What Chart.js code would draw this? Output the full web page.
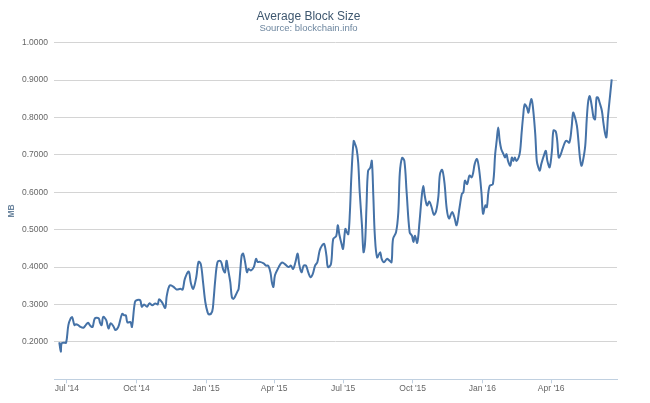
<!DOCTYPE html>
<html>
<head>
<meta charset="utf-8">
<title>Average Block Size</title>
<script src="https://cdn.jsdelivr.net/npm/chart.js@4.4.1/dist/chart.umd.min.js"></script>
<style>
    html, body { margin: 0; padding: 0; background: #fff; }
    #wrap { width: 650px; height: 403px; position: relative; }
</style>
</head>
<body>
<div id="wrap"><canvas id="blockChart"></canvas></div>
<script>
// x values are days counted from 1 Jul 2014
const days = [
    -10, -8, -7, -4, -1, 2, 5, 7, 10, 12, 15, 18, 22, 25, 28, 31, 34, 37, 42, 44,
    46, 48, 52, 55, 58, 62, 64, 68, 73, 76, 78, 80, 84, 86, 90, 93, 97, 99, 102, 106,
    109, 113, 117, 120, 122, 126, 130, 132, 136, 141, 145, 150, 153, 156, 161, 164, 167, 171, 174, 177,
    180, 183, 186, 188, 192, 194, 196, 199, 202, 204, 207, 209, 211, 213, 216, 218, 220, 222, 225, 227,
    229, 231, 233, 236, 238, 240, 243, 247, 250, 252, 255, 260, 263, 266, 269, 271, 273, 275, 280, 284,
    288, 293, 296, 299, 302, 305, 307, 310, 313, 316, 319, 322, 325, 328, 331, 334, 337, 340, 343, 345,
    349, 352, 356, 358, 360, 363, 365, 368, 370, 372, 374, 376, 379, 381, 383, 385, 387, 390, 392, 394,
    396, 398, 401, 403, 405, 407, 410, 414, 416, 419, 423, 426, 429, 431, 435, 438, 440, 443, 446, 449,
    453, 456, 458, 460, 463, 466, 469, 471, 473, 476, 479, 482, 485, 488, 491, 493, 496, 499, 502, 505,
    509, 512, 515, 519, 522, 524, 526, 529, 532, 535, 537, 539, 542, 545, 548, 550, 553, 555, 557, 559,
    563, 566, 568, 570, 572, 574, 577, 579, 581, 583, 586, 588, 590, 592, 594, 597, 599, 601, 603, 605,
    608, 610, 612, 614, 616, 619, 621, 623, 625, 627, 631, 633, 635, 638, 641, 643, 646, 648, 650, 652,
    655, 658, 660, 664, 667, 669, 671, 674, 676, 678, 680, 682, 685, 687, 689, 691, 694, 696, 698, 700,
    702, 704, 707, 709, 711, 713, 715, 718, 720
];

const blockSize = [
    0.199, 0.174, 0.196, 0.198, 0.198, 0.245, 0.263, 0.266, 0.245, 0.247, 0.245, 0.240, 0.238, 0.245, 0.251, 0.243, 0.240, 0.263, 0.263, 0.250,
    0.245, 0.267, 0.258, 0.236, 0.250, 0.240, 0.232, 0.240, 0.275, 0.271, 0.271, 0.252, 0.253, 0.240, 0.307, 0.312, 0.311, 0.294, 0.300, 0.294,
    0.303, 0.298, 0.303, 0.300, 0.314, 0.305, 0.291, 0.323, 0.351, 0.347, 0.340, 0.342, 0.340, 0.369, 0.388, 0.356, 0.342, 0.373, 0.414, 0.408,
    0.359, 0.306, 0.279, 0.273, 0.281, 0.315, 0.364, 0.413, 0.417, 0.413, 0.391, 0.386, 0.417, 0.395, 0.359, 0.320, 0.315, 0.320, 0.333, 0.342,
    0.386, 0.431, 0.436, 0.408, 0.386, 0.395, 0.391, 0.400, 0.422, 0.414, 0.414, 0.410, 0.404, 0.404, 0.386, 0.359, 0.347, 0.378, 0.400, 0.412,
    0.408, 0.400, 0.404, 0.395, 0.413, 0.436, 0.408, 0.386, 0.404, 0.404, 0.386, 0.373, 0.382, 0.404, 0.413, 0.444, 0.457, 0.462, 0.431, 0.400,
    0.408, 0.475, 0.483, 0.512, 0.488, 0.462, 0.449, 0.502, 0.493, 0.488, 0.546, 0.644, 0.737, 0.728, 0.715, 0.679, 0.600, 0.511, 0.440, 0.462,
    0.564, 0.657, 0.666, 0.684, 0.590, 0.484, 0.426, 0.440, 0.422, 0.413, 0.422, 0.418, 0.413, 0.475, 0.493, 0.546, 0.652, 0.692, 0.684, 0.600,
    0.493, 0.484, 0.467, 0.484, 0.465, 0.520, 0.590, 0.617, 0.590, 0.565, 0.575, 0.560, 0.540, 0.550, 0.590, 0.648, 0.660, 0.625, 0.556, 0.530,
    0.547, 0.534, 0.512, 0.560, 0.596, 0.600, 0.631, 0.622, 0.645, 0.640, 0.653, 0.676, 0.689, 0.658, 0.596, 0.543, 0.565, 0.560, 0.600, 0.618,
    0.622, 0.702, 0.738, 0.773, 0.738, 0.716, 0.702, 0.693, 0.702, 0.684, 0.671, 0.693, 0.684, 0.693, 0.684, 0.693, 0.711, 0.760, 0.804, 0.835,
    0.826, 0.813, 0.835, 0.849, 0.826, 0.755, 0.684, 0.667, 0.658, 0.676, 0.702, 0.711, 0.684, 0.667, 0.711, 0.765, 0.763, 0.738, 0.693, 0.698,
    0.716, 0.733, 0.738, 0.733, 0.773, 0.813, 0.804, 0.778, 0.738, 0.693, 0.671, 0.684, 0.724, 0.795, 0.844, 0.857, 0.826, 0.800, 0.795, 0.853,
    0.853, 0.840, 0.818, 0.786, 0.760, 0.747, 0.800, 0.862, 0.902
];

// quarter ticks on the x axis
const tickDays = [0, 92, 184, 274, 365, 457, 549, 640];
const tickLabels = ["Jul '14", "Oct '14", "Jan '15", "Apr '15", "Jul '15", "Oct '15", "Jan '16", "Apr '16"];

const FONT = "'Liberation Sans', Arial, sans-serif";

const points = days.map((d, i) => ({ x: d, y: blockSize[i] }));

new Chart(document.getElementById('blockChart'), {
    type: 'line',
    data: {
        datasets: [{
            label: 'Average Block Size',
            data: points,
            borderColor: '#4572A7',
            borderWidth: 2,
            pointRadius: 0,
            tension: 0.35,
            fill: false
        }]
    },
    options: {
        responsive: true,
        maintainAspectRatio: false,
        animation: false,
        layout: {
            padding: { left: 0, right: 33, top: 0, bottom: 0 }
        },
        plugins: {
            legend: { display: false },
            tooltip: { enabled: false },
            title: {
                display: true,
                text: 'Average Block Size',
                color: '#3E576F',
                font: { family: FONT, size: 12, weight: 'normal', lineHeight: 1.0 },
                padding: { top: 10.4, bottom: 0 }
            },
            subtitle: {
                display: true,
                text: 'Source: blockchain.info',
                color: '#6D869F',
                font: { family: FONT, size: 9.5, lineHeight: 1.2 },
                padding: { top: 0, bottom: 8.9 }
            }
        },
        scales: {
            x: {
                type: 'linear',
                min: -17,
                max: 727,
                afterBuildTicks: scale => {
                    scale.ticks = tickDays.map(v => ({ value: v }));
                },
                afterFit: scale => {
                    scale.height = 23.7;
                },
                grid: {
                    drawOnChartArea: false,
                    drawTicks: true,
                    tickLength: 4,
                    color: '#C0D0E0'
                },
                border: { color: '#C0D0E0' },
                ticks: {
                    autoSkip: false,
                    maxRotation: 0,
                    padding: 0,
                    color: '#666',
                    font: { family: FONT, size: 8.5 },
                    callback: (value, index) => tickLabels[index]
                }
            },
            y: {
                min: 0.1,
                max: 1.0,
                afterFit: scale => {
                    scale.width = 54;
                },
                grid: {
                    drawTicks: false,
                    color: ctx => (ctx.tick && ctx.tick.value < 0.15 ? 'rgba(0,0,0,0)' : '#d4d4d4')
                },
                border: { display: false },
                ticks: {
                    stepSize: 0.1,
                    padding: 6,
                    color: '#666',
                    font: { family: FONT, size: 8.5 },
                    callback: value => (value < 0.15 ? '' : value.toFixed(4))
                },
                title: {
                    display: true,
                    text: 'MB',
                    color: '#6D869F',
                    font: { family: FONT, size: 8.5, weight: 'bold' },
                    padding: { top: 7, bottom: 0 }
                }
            }
        }
    }
});
</script>
</body>
</html>
